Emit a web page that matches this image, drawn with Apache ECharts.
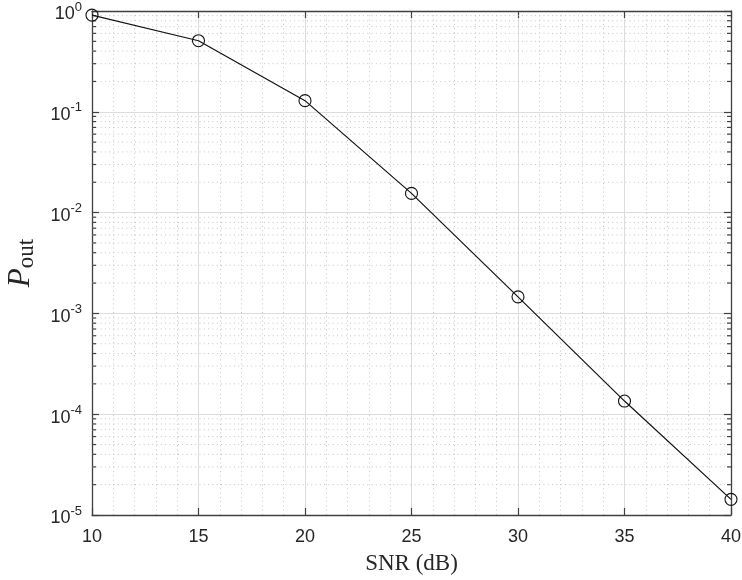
<!DOCTYPE html>
<html>
<head>
<meta charset="utf-8">
<script src="https://cdn.jsdelivr.net/npm/echarts@6/dist/echarts.min.js"></script>
<style>
  html, body { margin: 0; padding: 0; background: #fff; }
  #chart { width: 742px; height: 580px; }
</style>
</head>
<body>
<div id="chart"></div>
<script>
// Outage probability versus SNR
const snrDb = [10, 15, 20, 25, 30, 35, 40];
const outageProb = [0.91, 0.507, 0.129, 0.0155, 0.00146, 1.35e-4, 1.43e-5];

// Axis ranges
const xRange = [10, 40];
const yRange = [1e-5, 1];

// Minor log grid values: 2..9 within each decade
const minorLogValues = [];
for (let e = -5; e < 0; e++) {
  for (let k = 2; k <= 9; k++) minorLogValues.push(k * Math.pow(10, e));
}

const axisColor = '#404040';
const labelColor = '#262626';
const tickFont = 'Liberation Sans, Arial, Helvetica, sans-serif';
const serifFont = '"Liberation Serif", "DejaVu Serif", "Times New Roman", serif';
const minorDash = [1, 3.3];

const chart = echarts.init(document.getElementById('chart'), null, { renderer: 'canvas' });

chart.setOption({
  backgroundColor: '#ffffff',
  animation: false,
  grid: { left: 92, right: 11, top: 11, bottom: 65, containLabel: false, outerBoundsMode: 'none' },
  xAxis: [
    {
      type: 'value', min: xRange[0], max: xRange[1], interval: 5,
      axisLine: { show: true, lineStyle: { color: axisColor, width: 1.3 } },
      axisTick: { show: true, inside: true, length: 7, lineStyle: { color: axisColor, width: 1.2 } },
      axisLabel: { color: labelColor, fontSize: 18, fontFamily: tickFont, margin: 13 },
      splitLine: { show: true, lineStyle: { color: '#dcdcdc', width: 1 } },
      minorTick: { show: false, splitNumber: 5 },
      minorSplitLine: { show: true, lineStyle: { color: '#c4c4c4', width: 1, type: minorDash } },
      name: 'SNR (dB)', nameLocation: 'middle', nameGap: 37,
      nameTextStyle: { fontFamily: serifFont, fontSize: 23, color: labelColor }
    },
    {
      type: 'value', position: 'top', min: xRange[0], max: xRange[1], interval: 5,
      axisLine: { show: true, lineStyle: { color: axisColor, width: 1.3 } },
      axisTick: { show: true, inside: true, length: 7, lineStyle: { color: axisColor, width: 1.2 } },
      axisLabel: { show: false },
      splitLine: { show: false }
    }
  ],
  yAxis: [
    {
      type: 'log', logBase: 10, min: yRange[0], max: yRange[1],
      axisLine: { show: true, lineStyle: { color: axisColor, width: 1.3 } },
      axisTick: { show: true, inside: true, length: 7, lineStyle: { color: axisColor, width: 1.2 } },
      axisLabel: {
        margin: 10,
        padding: [2, 0, 0, 0],
        formatter: function (v) {
          const e = Math.round(Math.log10(v));
          return '{b|10}{s|' + e + '}';
        },
        rich: {
          b: { fontSize: 18, fontFamily: tickFont, color: labelColor, lineHeight: 18, verticalAlign: 'bottom' },
          s: { fontSize: 13, fontFamily: tickFont, color: labelColor, lineHeight: 23, verticalAlign: 'top' }
        }
      },
      splitLine: { show: true, lineStyle: { color: '#dcdcdc', width: 1 } },
      name: '{p|P}{s|out}', nameLocation: 'middle', nameGap: 54, nameRotate: 90,
      nameTextStyle: {
        rich: {
          p: { fontFamily: serifFont, fontStyle: 'italic', fontSize: 31, color: labelColor },
          s: { fontFamily: serifFont, fontSize: 23, color: labelColor, padding: [12, 0, 0, 0] }
        }
      }
    },
    {
      type: 'log', logBase: 10, min: yRange[0], max: yRange[1], position: 'right',
      axisLine: { show: true, lineStyle: { color: axisColor, width: 1.3 } },
      axisTick: { show: true, inside: true, length: 7, lineStyle: { color: axisColor, width: 1.2 } },
      axisLabel: { show: false },
      splitLine: { show: false }
    }
  ],
  series: [
    {
      // dotted minor grid lines and minor ticks on both vertical edges
      type: 'custom',
      xAxisIndex: 0, yAxisIndex: 0,
      silent: true, z: 1,
      data: minorLogValues.map(v => [v]),
      renderItem: function (params, api) {
        const v = api.value(0);
        const pL = api.coord([xRange[0], v]);
        const pR = api.coord([xRange[1], v]);
        const y = pL[1];
        return {
          type: 'group',
          children: [
            { type: 'line', shape: { x1: pL[0], y1: y, x2: pR[0], y2: y },
              style: { stroke: '#c4c4c4', lineWidth: 1, lineDash: minorDash } },
            { type: 'line', shape: { x1: pL[0], y1: y, x2: pL[0] + 4, y2: y },
              style: { stroke: axisColor, lineWidth: 1.2 } },
            { type: 'line', shape: { x1: pR[0] - 4, y1: y, x2: pR[0], y2: y },
              style: { stroke: axisColor, lineWidth: 1.2 } }
          ]
        };
      },
      encode: { y: 0 }
    },
    {
      type: 'line',
      xAxisIndex: 0, yAxisIndex: 0, z: 5,
      data: snrDb.map((x, i) => [x, outageProb[i]]),
      symbol: 'circle', symbolSize: 12,
      lineStyle: { color: '#111', width: 1.2 },
      itemStyle: { color: 'rgba(255,255,255,0)', borderColor: '#111', borderWidth: 1.1 },
      clip: false
    }
  ]
});
</script>
</body>
</html>
